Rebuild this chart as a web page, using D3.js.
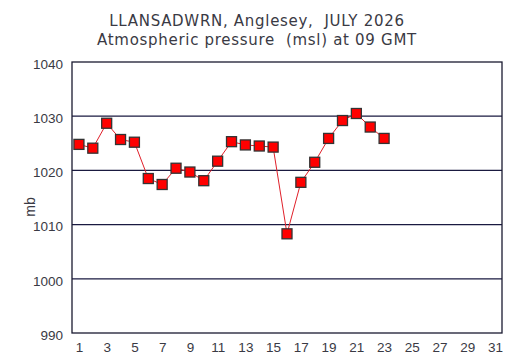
<!DOCTYPE html>
<html><head><meta charset="utf-8">
<script src="https://cdn.jsdelivr.net/npm/d3@7"></script>
<style>body{margin:0;background:#fff}svg{display:block}</style>
</head><body>
<script>
const days = [1,2,3,4,5,6,7,8,9,10,11,12,13,14,15,16,17,18,19,20,21,22,23];
const pressure = [1024.8,1024.1,1028.7,1025.7,1025.2,1018.5,1017.4,1020.4,1019.7,1018.1,1021.7,1025.3,1024.7,1024.5,1024.3,1008.3,1017.8,1021.5,1025.9,1029.2,1030.5,1028.0,1025.9];
const xTicks = [1,3,5,7,9,11,13,15,17,19,21,23,25,27,29,31];
const yTicks = [990,1000,1010,1020,1030,1040];
const titles = ["LLANSADWRN, Anglesey,  JULY 2026","Atmospheric pressure  (msl) at 09 GMT"];

const W=516,H=363, L=72,R=502,T=62,B=333;
const svg=d3.select("body").append("svg").attr("width",W).attr("height",H);
const x=d3.scaleLinear().domain([0.5,31.5]).range([L,R]);
const y=d3.scaleLinear().domain([990,1040]).range([B,T]);
const tfont="DejaVu Sans, Verdana, sans-serif";
const font="Liberation Sans, Arial, sans-serif";
const txt="#3a3a44";

svg.selectAll("text.title").data(titles).join("text")
  .attr("x",257).attr("y",(d,i)=>26+i*19).attr("text-anchor","middle")
  .attr("font-family",tfont).attr("font-size",15).attr("letter-spacing",0.7)
  .attr("fill",txt).style("white-space","pre").text(d=>d);

// grid
svg.append("g").selectAll("line").data(yTicks.slice(1,-1)).join("line")
  .attr("x1",L).attr("x2",R).attr("y1",d=>y(d)).attr("y2",d=>y(d))
  .attr("stroke","#1a1a40").attr("stroke-width",1.2);

const ya=svg.append("g").attr("transform",`translate(${L},2)`)
  .call(d3.axisLeft(y).tickValues(yTicks).tickSize(0).tickPadding(9).tickFormat(d3.format("d")));
ya.select(".domain").remove();
ya.selectAll("text").attr("font-family",font).attr("font-size",13.5).attr("fill",txt);

const xa=svg.append("g").attr("transform",`translate(0,${B})`)
  .call(d3.axisBottom(x).tickValues(xTicks).tickSize(0).tickPadding(9).tickFormat(d3.format("d")));
xa.select(".domain").remove();
xa.selectAll("text").attr("font-family",font).attr("font-size",13.5).attr("fill",txt);

svg.append("rect").attr("x",L).attr("y",T).attr("width",R-L).attr("height",B-T)
  .attr("fill","none").attr("stroke","#1a1a30").attr("stroke-width",1.3);

svg.append("text").attr("transform",`translate(35,207) rotate(-90)`)
  .attr("text-anchor","middle").attr("font-family",font).attr("font-size",14).attr("fill",txt).text("mb");

const pts=days.map((d,i)=>[d,pressure[i]]);
svg.append("path").datum(pts).attr("fill","none").attr("stroke","#e0202a").attr("stroke-width",1)
  .attr("d",d3.line().x(d=>x(d[0])).y(d=>y(d[1])));
svg.selectAll("rect.pt").data(pts).join("rect")
  .attr("x",d=>x(d[0])-5).attr("y",d=>y(d[1])-5).attr("width",10).attr("height",10)
  .attr("fill","#ff0000").attr("stroke","#333").attr("stroke-width",1.3);
</script>
</body></html>
